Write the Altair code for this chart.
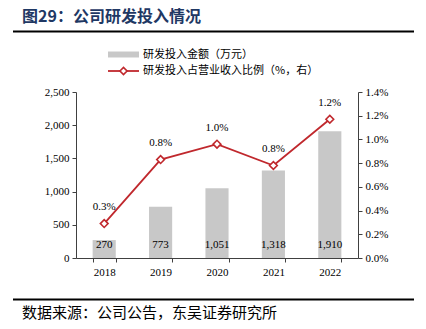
import altair as alt
import pandas as pd

years = ["2018", "2019", "2020", "2021", "2022"]
rd_amount = [270, 773, 1051, 1318, 1910]
rd_ratio = [0.0029, 0.0083, 0.0096, 0.0078, 0.0117]
ratio_labels = ["0.3%", "0.8%", "1.0%", "0.8%", "1.2%"]
amount_labels = ["270", "773", "1,051", "1,318", "1,910"]

title_text = "图29：公司研发投入情况"
source_text = "数据来源：公司公告，东吴证券研究所"
legend_bar = "研发投入金额（万元）"
legend_line = "研发投入占营业收入比例（%，右）"

df = pd.DataFrame({
    "year": years,
    "amount": rd_amount,
    "ratio": rd_ratio,
    "rlab": ratio_labels,
    "alab": amount_labels,
})

W, H = 282, 166
OX, OY = 76, 92
SERIF = "Liberation Serif"
CJK = "Noto Sans CJK SC"
RED = "#c0282d"
GRAY = "#c8c8c8"
AX = "#404040"

xs = alt.Scale(paddingInner=0.59, paddingOuter=0.295)
x = alt.X("year:N", sort=years, title=None, scale=xs,
          axis=alt.Axis(labelAngle=0, labelFont=SERIF, labelFontSize=11,
                        labelColor="#000", domainColor=AX, tickColor=AX,
                        tickBand="extent", tickSize=4, labelPadding=4))

y_left = alt.Y("amount:Q", title=None,
               scale=alt.Scale(domain=[0, 2500]),
               axis=alt.Axis(values=[0, 500, 1000, 1500, 2000, 2500], format=",d",
                             labelFont=SERIF, labelFontSize=11, labelColor="#000",
                             domainColor=AX, tickColor=AX, tickSize=4,
                             grid=False, labelPadding=3))

rs = alt.Scale(domain=[0, 0.014])
y_right = alt.Y("ratio:Q", title=None, scale=rs,
                axis=alt.Axis(orient="right",
                              values=[0, 0.002, 0.004, 0.006, 0.008, 0.010, 0.012, 0.014],
                              format=".1%", labelFont=SERIF, labelFontSize=11,
                              labelColor="#000", domainColor=AX,
                              tickColor=AX, tickSize=4, grid=False, labelPadding=3))
y_rn = alt.Y("ratio:Q", title=None, scale=rs, axis=None)

bars = alt.Chart(df).mark_bar(color=GRAY).encode(x=x, y=y_left)
bar_text = alt.Chart(df).mark_text(font=SERIF, fontSize=11, color="#000",
                                   baseline="middle", dy=-13).encode(
    x=x, y=alt.value(H), text="alab:N")
line = alt.Chart(df).mark_line(color=RED, strokeWidth=1.8).encode(x=x, y=y_right)
pts = alt.Chart(df).mark_point(shape="diamond", filled=True, fill="white",
                               stroke=RED, strokeWidth=1.6, size=60, opacity=1).encode(
    x=x, y=y_rn)
line_text = alt.Chart(df).mark_text(font=SERIF, fontSize=11, color="#000",
                                    baseline="middle", dy=-16.5).encode(
    x=x, y=y_rn, text="rlab:N")

one = pd.DataFrame({"k": [0]})

title = alt.Chart(one).mark_text(text=title_text, font=CJK, fontSize=16, fontWeight="bold",
                                 color="#1f3864", align="left", baseline="middle").encode(
    x=alt.value(22 - OX), y=alt.value(17 - OY))
top_rule = alt.Chart(one).mark_rule(color="#000", strokeWidth=2).encode(
    x=alt.value(13 - OX), x2=alt.value(414 - OX), y=alt.value(31.5 - OY))
bot_rule = alt.Chart(one).mark_rule(color="#000", strokeWidth=2).encode(
    x=alt.value(13 - OX), x2=alt.value(414 - OX), y=alt.value(299.5 - OY))
source = alt.Chart(one).mark_text(text=source_text, font=CJK, fontSize=15,
                                  color="#000", align="left", baseline="middle").encode(
    x=alt.value(22 - OX), y=alt.value(313 - OY))

leg_rect = alt.Chart(one).mark_rect(color=GRAY).encode(
    x=alt.value(108 - OX), x2=alt.value(139 - OX),
    y=alt.value(51.5 - OY), y2=alt.value(57.5 - OY))
leg_t1 = alt.Chart(one).mark_text(text=legend_bar, font=CJK, fontSize=11, color="#000",
                                  align="left", baseline="middle").encode(
    x=alt.value(143 - OX), y=alt.value(54.5 - OY))
leg_line = alt.Chart(one).mark_rule(color=RED, strokeWidth=1.8).encode(
    x=alt.value(108 - OX), x2=alt.value(139 - OX), y=alt.value(71 - OY))
leg_pt = alt.Chart(one).mark_point(shape="diamond", filled=True, fill="white",
                                   stroke=RED, strokeWidth=1.6, size=50, opacity=1).encode(
    x=alt.value(123.5 - OX), y=alt.value(71 - OY))
leg_t2 = alt.Chart(one).mark_text(text=legend_line, font=CJK, fontSize=11, color="#000",
                                  align="left", baseline="middle").encode(
    x=alt.value(143 - OX), y=alt.value(71 - OY))

chart = alt.layer(
    bars, bar_text, line, pts, line_text,
    title, top_rule, bot_rule, source, leg_rect, leg_t1, leg_line, leg_pt, leg_t2,
).resolve_scale(y="independent").properties(
    width=W, height=H,
    autosize=alt.AutoSizeParams(type="none"),
    padding={"left": OX, "top": OY, "right": 426 - OX - W, "bottom": 329 - OY - H},
    background="white",
).configure_view(stroke=None)

chart.save("out.html", embed_options={"renderer": "svg", "actions": False})
